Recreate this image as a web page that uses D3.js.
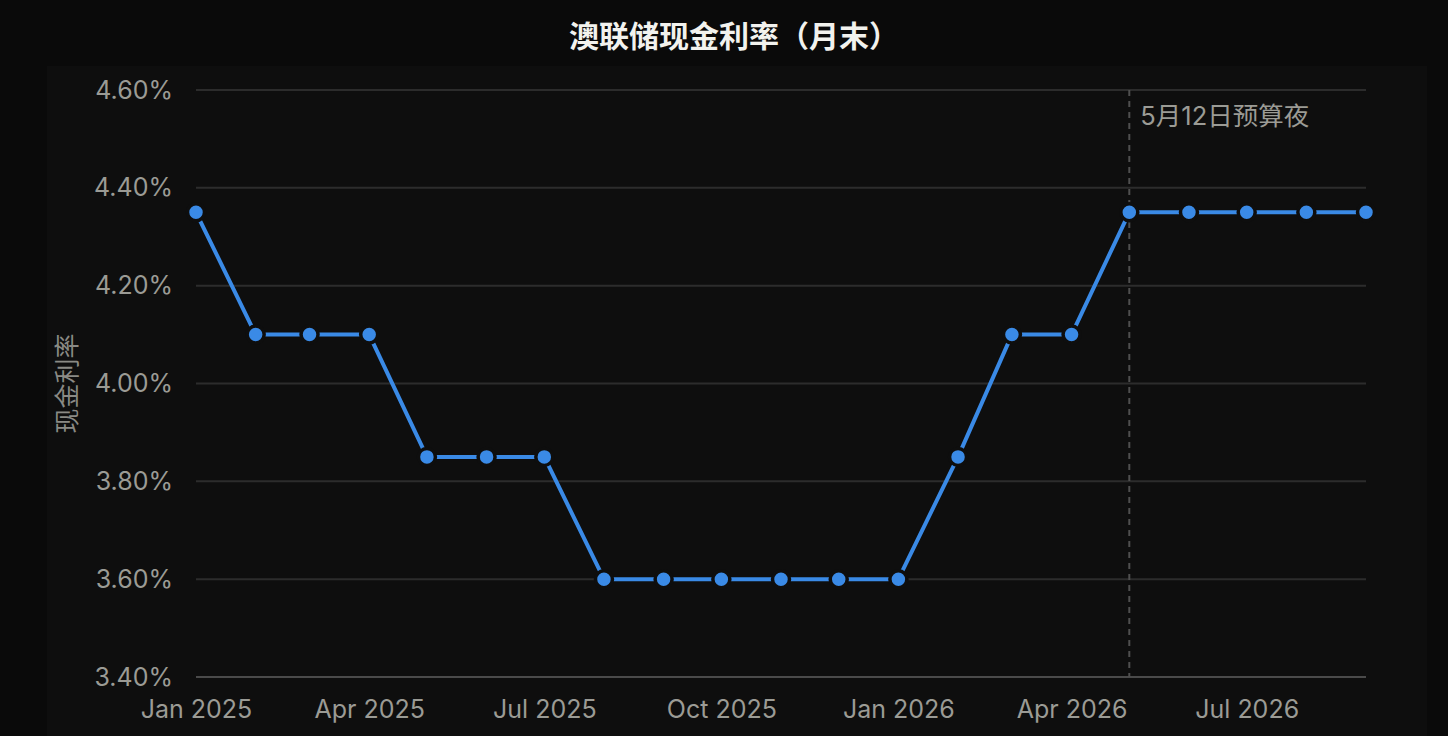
<!DOCTYPE html>
<html><head><meta charset="utf-8">
<script src="https://cdn.jsdelivr.net/npm/d3@7"></script>
<style>
html,body{margin:0;padding:0;background:#0a0a0a;}
svg{display:block;}
</style></head>
<body>
<svg id="c" width="1448" height="736"></svg>
<script>
const months = ["2025-01","2025-02","2025-03","2025-04","2025-05","2025-06","2025-07","2025-08","2025-09","2025-10","2025-11","2025-12","2026-01","2026-02","2026-03","2026-04","2026-05","2026-06","2026-07","2026-08","2026-09"];
const rates = [4.35,4.10,4.10,4.10,3.85,3.85,3.85,3.60,3.60,3.60,3.60,3.60,3.60,3.85,4.10,4.10,4.35,4.35,4.35,4.35,4.35];
const yTicks = [3.4,3.6,3.8,4.0,4.2,4.4,4.6];
const annotationMonth = "2026-05";
const annotationLabel = "5月12日预算夜";
const titleText = "澳联储现金利率（月末）";
const yLabel = "现金利率";

const parse = d3.timeParse("%Y-%m");
const data = months.map((m,i)=>({date:parse(m), v:rates[i]}));

const svg = d3.select("#c");
const W=1448,H=736;
const m = {left:196,right:1448-1366,top:90,bottom:736-677};
const font = "Inter, 'Noto Sans CJK SC', sans-serif";
const cjk = "'Noto Sans CJK SC', sans-serif";
const txt = "#9b9b95";

svg.append("rect").attr("x",0).attr("y",0).attr("width",W).attr("height",H).attr("fill","#0a0a0a");
svg.append("rect").attr("x",47).attr("y",66).attr("width",1380).attr("height",H-66).attr("fill","#0e0e0e");

const x = d3.scaleTime().domain([parse("2025-01"),parse("2026-09")]).range([m.left, W-m.right]);
const y = d3.scaleLinear().domain([3.4,4.6]).range([H-m.bottom, m.top]);

// grid
svg.append("g").selectAll("line").data(yTicks).join("line")
  .attr("x1",x.range()[0]).attr("x2",x.range()[1])
  .attr("y1",d=>y(d)).attr("y2",d=>y(d))
  .attr("stroke",d=>d===3.4?"#4a4a4a":"#2c2c2c").attr("stroke-width",2);

// y axis
const yAxis = d3.axisLeft(y).tickValues(yTicks).tickFormat(d=>d.toFixed(2)+"%").tickSize(0).tickPadding(23);
const gy = svg.append("g").attr("transform",`translate(${m.left},0)`).call(yAxis);
gy.select(".domain").remove();
gy.selectAll("text").attr("fill",txt).style("font-family",font).style("font-size","25px");

// x axis
const xAxis = d3.axisBottom(x).ticks(d3.timeMonth.every(3)).tickFormat(d3.timeFormat("%b %Y")).tickSize(0).tickPadding(23);
const gx = svg.append("g").attr("transform",`translate(0,${H-m.bottom})`).call(xAxis);
gx.select(".domain").remove();
gx.selectAll("text").attr("fill",txt).style("font-family",font).style("font-size","25px");

// annotation
const ax = x(parse(annotationMonth));
svg.append("line").attr("x1",ax).attr("x2",ax).attr("y1",y(4.6)).attr("y2",y(3.4))
  .attr("stroke","#4f4f4f").attr("stroke-width",2).attr("stroke-dasharray","6,5");
svg.append("text").attr("x",ax+11).attr("y",y(4.6)+35).text(annotationLabel)
  .attr("fill",txt).style("font-family",font).style("font-size","25.5px");

// line
const line = d3.line().x(d=>x(d.date)).y(d=>y(d.v));
svg.append("path").datum(data).attr("d",line).attr("fill","none")
  .attr("stroke","#3a8ae6").attr("stroke-width",4).attr("stroke-linejoin","round");
svg.append("g").selectAll("circle").data(data).join("circle")
  .attr("cx",d=>x(d.date)).attr("cy",d=>y(d.v)).attr("r",8.5)
  .attr("fill","#3a8ae6").attr("stroke","#0e0e0e").attr("stroke-width",3.5);

// title
svg.append("text").attr("x",734).attr("y",47).attr("text-anchor","middle").text(titleText)
  .attr("fill","#f2f2ee").style("font-family",cjk).style("font-weight","600").style("font-size","30px");

// y label
svg.append("text").attr("transform",`translate(76,${(y(3.4)+y(4.6))/2}) rotate(-90)`).attr("text-anchor","middle")
  .text(yLabel).attr("fill","#8a8a85").style("font-family",cjk).style("font-size","25px");
</script>
</body></html>
